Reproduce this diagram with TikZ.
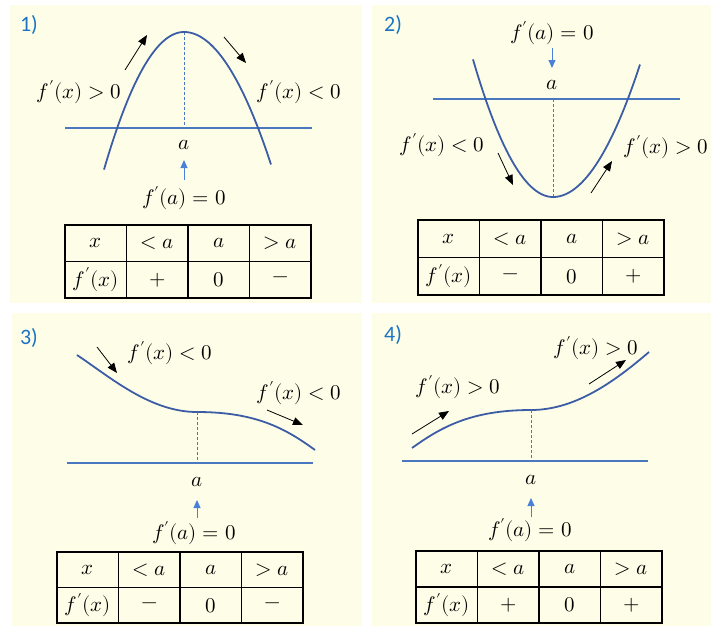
\documentclass[tikz,border=0pt]{standalone}
\usepackage{fontspec}
\usepackage{unicode-math}
\setmathfont{Latin Modern Math}
\newfontfamily\calibri{Carlito}
\usetikzlibrary{arrows.meta}
\definecolor{panelbg}{HTML}{FEFEE8}
\definecolor{curveblue}{HTML}{3C5DA6}
\definecolor{axisblue}{HTML}{4A78C0}
\definecolor{arrowblue}{HTML}{4A80D8}
\definecolor{numblue}{HTML}{1C74C4}
\tikzset{
 mtext/.style={inner sep=0pt, font=\fontsize{21}{25}\selectfont},
 plabel/.style={inner sep=0pt, font=\calibri\fontsize{22}{26}\selectfont, text=numblue},
 curve/.style={curveblue, line width=1.8pt},
 axisline/.style={axisblue, line width=1.4pt},
 guide/.style={axisblue, line width=0.8pt, dash pattern=on 3pt off 2pt},
 barrow/.style={black, line width=0.8pt, -{Triangle[length=10pt,width=8pt]}},
 farrow/.style={arrowblue, line width=1pt, -{Triangle[length=8pt,width=7pt]}},
 tab/.style={black, line width=1.4pt},
}
\newcommand\SignTable[6]{%
 \begin{scope}[shift={(#2,#3)}]
  \draw[tab] (0,0) rectangle (246,#4);
  \draw[tab] (0,#4/2) -- (246,#4/2);
  \foreach \c in {61.5,123,184.5} \draw[tab] (\c,0) -- (\c,#4);
  \node[mtext] (#1c11) at (30.75,#4/4) {$x$};
  \node[mtext] (#1c12) at (92.25,#4/4) {$<a$};
  \node[mtext] (#1c13) at (153.75,#4/4) {$a$};
  \node[mtext] (#1c14) at (215.25,#4/4) {$>a$};
  \node[mtext] (#1c21) at (30.75,3*#4/4) {$f'(x)$};
  \node[mtext] (#1c22) at (92.25,3*#4/4) {$#5$};
  \node[mtext] (#1c23) at (153.75,3*#4/4) {$0$};
  \node[mtext] (#1c24) at (215.25,3*#4/4) {$#6$};
 \end{scope}}
\begin{document}
\begin{tikzpicture}[x=1pt,y=-1pt]
\useasboundingbox (0,0) rectangle (711,626);
\fill[white] (0,0) rectangle (711,626);
\fill[panelbg] (10,5) rectangle (362,303);
\fill[panelbg] (372,5) rectangle (711,303);
\fill[panelbg] (12,313) rectangle (362,626);
\fill[panelbg] (372,313) rectangle (711,626);

% ---------- panel 1 ----------
\node[plabel] (n1) at (29,25) {1)};
\draw[guide] (184,32) -- (184,128);
\draw[axisline] (65,128) -- (312,128);
\draw[curve] plot[domain=-80:0, samples=40, smooth] ({184+\x},{32+0.0215*\x*\x})
  -- plot[domain=0:87, samples=40, smooth] ({184+\x},{32+0.0175*\x*\x});
\node[mtext] (p1a) at (184,145) {$a$};
\node[mtext] (p1fa) at (184,198) {$f'(a)=0$};
\coordinate (p1s) at (184,180);
\coordinate (p1e) at (184,160);
\draw[farrow] (p1s) -- (p1e);
\node[mtext] (p1L) at (79,92) {$f'(x)>0$};
\node[mtext] (p1R) at (299,92) {$f'(x)<0$};
\coordinate (p1u1) at (125,70); \coordinate (p1u2) at (147,35);
\coordinate (p1d1) at (224,37); \coordinate (p1d2) at (246,63);
\draw[barrow] (p1u1) -- (p1u2);
\draw[barrow] (p1d1) -- (p1d2);
\SignTable{t1}{65}{225}{73}{+}{-}

% ---------- panel 2 ----------
\node[plabel] (n2) at (393,25) {2)};
\node[mtext] (p2fa) at (552,33) {$f'(a)=0$};
\coordinate (p2s) at (552,48);
\coordinate (p2e) at (552,68);
\draw[farrow] (p2s) -- (p2e);
\node[mtext] (p2a) at (552,85) {$a$};
\draw[axisline] (433,99) -- (680,99);
\draw[guide] (553,99) -- (553,197);
\draw[curve] plot[domain=-80:0, samples=40, smooth] ({553+\x},{197-0.0215*\x*\x})
  -- plot[domain=0:87, samples=40, smooth] ({553+\x},{197-0.0175*\x*\x});
\node[mtext] (p2L) at (442,145) {$f'(x)<0$};
\node[mtext] (p2R) at (666,147) {$f'(x)>0$};
\coordinate (p2d1) at (498,153); \coordinate (p2d2) at (513,185);
\coordinate (p2u1) at (591,193); \coordinate (p2u2) at (612,161);
\draw[barrow] (p2d1) -- (p2d2);
\draw[barrow] (p2u1) -- (p2u2);
\SignTable{t2}{418}{220}{75}{-}{+}

% ---------- panel 3 ----------
\node[plabel] (n3) at (29,338) {3)};
\draw[curve] (77,355) .. controls (110,377) and (150,412) .. (197,412)
  .. controls (255,412) and (285,428) .. (315,450);
\draw[axisline] (67,463) -- (313,463);
\draw[guide] (197,412) -- (197,463);
\node[mtext] (p3a) at (197,482) {$a$};
\coordinate (p3s) at (197,518);
\coordinate (p3e) at (197,500);
\draw[farrow] (p3s) -- (p3e);
\node[mtext] (p3fa) at (194,533) {$f'(a)=0$};
\node[mtext] (p3T) at (170,353) {$f'(x)<0$};
\node[mtext] (p3R) at (299,393) {$f'(x)<0$};
\coordinate (p3a1) at (97,347); \coordinate (p3a2) at (117,373);
\coordinate (p3b1) at (267,410); \coordinate (p3b2) at (303,425);
\draw[barrow] (p3a1) -- (p3a2);
\draw[barrow] (p3b1) -- (p3b2);
\SignTable{t3}{57}{552}{71}{-}{-}

% ---------- panel 4 ----------
\node[plabel] (n4) at (393,335) {4)};
\draw[curve] (412,448) .. controls (440,428) and (470,410) .. (531,410)
  .. controls (575,410) and (614,382) .. (649,352);
\draw[axisline] (402,461) -- (648,461);
\draw[guide] (531,410) -- (531,461);
\node[mtext] (p4a) at (531,480) {$a$};
\coordinate (p4s) at (531,517);
\coordinate (p4e) at (531,498);
\draw[farrow] (p4s) -- (p4e);
\node[mtext] (p4fa) at (530,530) {$f'(a)=0$};
\node[mtext] (p4L) at (458,387) {$f'(x)>0$};
\node[mtext] (p4R) at (596,348) {$f'(x)>0$};
\coordinate (p4a1) at (412,434); \coordinate (p4a2) at (449,411);
\coordinate (p4b1) at (589,384); \coordinate (p4b2) at (626,360);
\draw[barrow] (p4a1) -- (p4a2);
\draw[barrow] (p4b1) -- (p4b2);
\SignTable{t4}{416}{551}{72}{+}{+}
\end{tikzpicture}
\end{document}
